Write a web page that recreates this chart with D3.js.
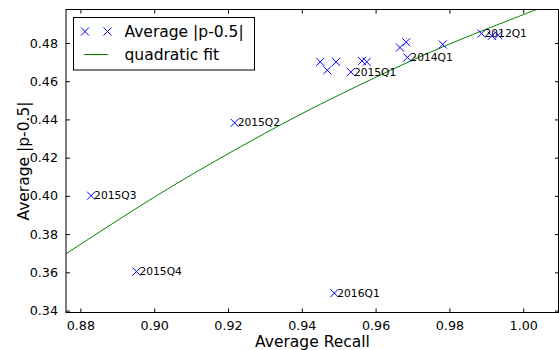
<!DOCTYPE html>
<html>
<head>
<meta charset="utf-8">
<script src="https://cdn.jsdelivr.net/npm/d3@7"></script>
<style>
  body { margin: 0; background: white; }
  text { font-family: "DejaVu Sans", sans-serif; fill: black; }
</style>
</head>
<body>
<div id="chart"></div>
<script>
// data
var recall = [0.8829, 0.8952, 0.9218, 0.9488, 0.9450, 0.9469, 0.9493, 0.9533, 0.9563, 0.9576,
              0.9666, 0.9683, 0.9686, 0.9782, 0.9887, 0.9915, 0.9932];
var avgDev = [0.4001, 0.3604, 0.4382, 0.3491, 0.4701, 0.4657, 0.4701, 0.4648, 0.4706, 0.4701,
              0.4776, 0.4804, 0.4724, 0.4792, 0.4849, 0.4837, 0.4840];
var labels = ["2015Q3", "2015Q4", "2015Q2", "2016Q1", "", "", "", "2015Q1", "", "",
              "", "", "2014Q1", "", "2012Q1", "", ""];

// quadratic fit line
var fitX = [0.876, 0.90, 0.92, 0.94, 0.96, 0.98, 1.0036, 1.0097];
var fitY = [0.3696, 0.3993, 0.4220, 0.4430, 0.4620, 0.4794, 0.4975, 0.5022];

var xTicks = [0.88, 0.90, 0.92, 0.94, 0.96, 0.98, 1.00];
var yTicks = [0.34, 0.36, 0.38, 0.40, 0.42, 0.44, 0.46, 0.48];

var svgWidth = 559;
var svgHeight = 350;
var margin = { top: 9.5, right: 0, bottom: 37.5, left: 66 };
var width = svgWidth - margin.left - margin.right;
var height = svgHeight - margin.top - margin.bottom;

var svg = d3.select("#chart")
  .append("svg")
  .attr("width", svgWidth)
  .attr("height", svgHeight);

var chartGroup = svg.append("g")
  .attr("transform", `translate(${margin.left}, ${margin.top})`);

var xScale = d3.scaleLinear().domain([0.8761, 1.0097]).range([0, width]);
var yScale = d3.scaleLinear().domain([0.339, 0.4975]).range([height, 0]);

svg.append("defs").append("clipPath").attr("id", "clip")
  .append("rect").attr("width", width).attr("height", height);

// fit line
var fitData = fitX.map((x, i) => ({ x: x, y: fitY[i] }));
var line = d3.line()
  .x(d => xScale(d.x))
  .y(d => yScale(d.y))
  .curve(d3.curveNatural);

chartGroup.append("path")
  .datum(fitData)
  .attr("clip-path", "url(#clip)")
  .attr("d", line)
  .attr("fill", "none")
  .attr("stroke", "#008000")
  .attr("stroke-width", 1);

// points
var pts = recall.map((x, i) => ({ x: x, y: avgDev[i], label: labels[i] }));
var s = 4;
var cross = `M${-s},${-s}L${s},${s}M${-s},${s}L${s},${-s}`;

chartGroup.selectAll(".pt")
  .data(pts)
  .enter()
  .append("path")
  .attr("class", "pt")
  .attr("transform", d => `translate(${xScale(d.x)}, ${yScale(d.y)})`)
  .attr("d", cross)
  .attr("stroke", "#0000ff")
  .attr("stroke-width", 1)
  .attr("fill", "none");

chartGroup.selectAll(".lbl")
  .data(pts.filter(d => d.label))
  .enter()
  .append("text")
  .attr("class", "lbl")
  .attr("x", d => xScale(d.x) + 3)
  .attr("y", d => yScale(d.y) + 3.5)
  .attr("font-size", "10.7px")
  .text(d => d.label);

// axes, classic style: ticks inside on all four sides
var bottomAxis = d3.axisBottom(xScale).tickValues(xTicks).tickFormat(d3.format(".2f")).tickSizeInner(-4).tickSizeOuter(0).tickPadding(8);
var topAxis = d3.axisTop(xScale).tickValues(xTicks).tickFormat("").tickSizeInner(-4).tickSizeOuter(0);
var leftAxis = d3.axisLeft(yScale).tickValues(yTicks).tickFormat(d3.format(".2f")).tickSizeInner(-4).tickSizeOuter(0).tickPadding(8);
var rightAxis = d3.axisRight(yScale).tickValues(yTicks).tickFormat("").tickSizeInner(-4).tickSizeOuter(0);

function styleAxis(g) {
  g.selectAll("text").attr("font-size", "12.7px").attr("font-family", "DejaVu Sans").attr("fill", "black");
  g.selectAll("line").attr("stroke", "black");
  g.select(".domain").remove();
}

chartGroup.append("g").attr("transform", `translate(0, ${height})`).call(bottomAxis).call(styleAxis);
chartGroup.append("g").call(topAxis).call(styleAxis);
chartGroup.append("g").call(leftAxis).call(styleAxis);
chartGroup.append("g").attr("transform", `translate(${width}, 0)`).call(rightAxis).call(styleAxis);

// frame
chartGroup.append("rect")
  .attr("x", 0.5 - 0.5)
  .attr("y", 0)
  .attr("width", width - 0.5)
  .attr("height", height)
  .attr("fill", "none")
  .attr("stroke", "black")
  .attr("stroke-width", 1);

// axis labels
chartGroup.append("text")
  .attr("transform", `translate(${width / 2}, ${height + 34.5})`)
  .attr("text-anchor", "middle")
  .attr("font-size", "15.5px")
  .text("Average Recall");

chartGroup.append("text")
  .attr("transform", `translate(${29 - margin.left}, ${height / 2}) rotate(-90)`)
  .attr("text-anchor", "middle")
  .attr("font-size", "15.5px")
  .text("Average |p-0.5|");

// legend
var legend = svg.append("g");
legend.append("rect")
  .attr("x", 73.5).attr("y", 17.5)
  .attr("width", 181).attr("height", 52.5)
  .attr("fill", "white").attr("stroke", "black").attr("stroke-width", 1);

[85, 107.5].forEach(function(x) {
  legend.append("path")
    .attr("transform", `translate(${x}, 31.5)`)
    .attr("d", cross)
    .attr("stroke", "#0000ff")
    .attr("fill", "none");
});
legend.append("line")
  .attr("x1", 84).attr("x2", 108)
  .attr("y1", 54.5).attr("y2", 54.5)
  .attr("stroke", "#008000");
legend.append("text").attr("x", 124.5).attr("y", 37).attr("font-size", "15.5px").text("Average |p-0.5|");
legend.append("text").attr("x", 124.5).attr("y", 60).attr("font-size", "15.5px").text("quadratic fit");
</script>
</body>
</html>
